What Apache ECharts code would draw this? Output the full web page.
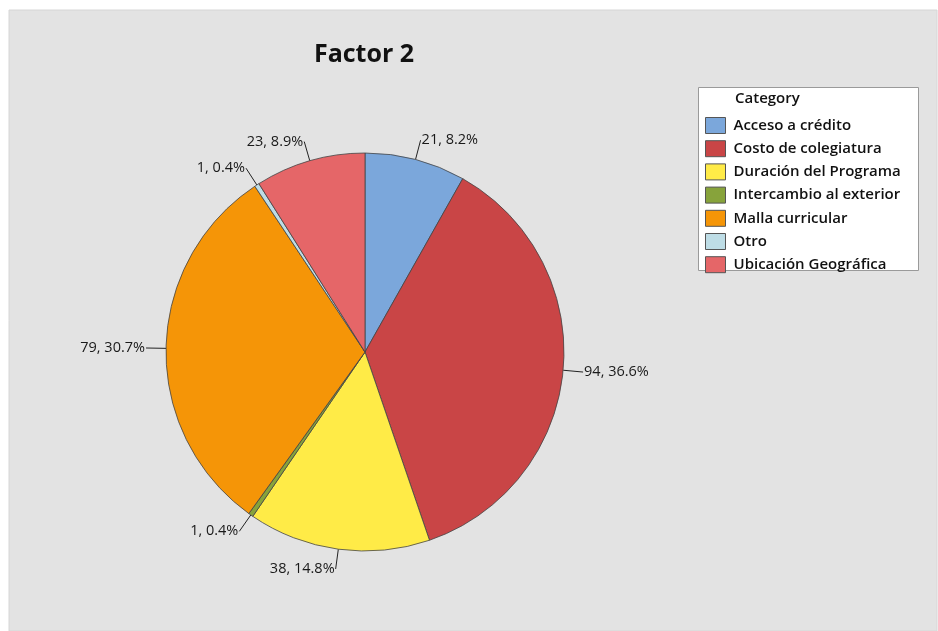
<!DOCTYPE html>
<html><head><meta charset="utf-8">
<script src="https://cdn.jsdelivr.net/npm/echarts@6/dist/echarts.min.js"></script>
<style>html,body{margin:0;padding:0;background:#fff;}#c{width:938px;height:631px;}</style>
</head><body><div id="c"></div>
<script>
const categories = ["Acceso a crédito","Costo de colegiatura","Duración del Programa","Intercambio al exterior","Malla curricular","Otro","Ubicación Geográfica"];
const counts = [21, 94, 38, 1, 79, 1, 23];
const colors = ["#7BA7DB","#C94546","#FFEB47","#87A33B","#F59507","#BEDDE6","#E56668"];
const titleText = "Factor 2";
const legendTitle = "Category";

const FONT = '"Open Sans", "Noto Sans", sans-serif';
const chart = echarts.init(document.getElementById('c'), null, {renderer:'canvas'});
chart.setOption({
  backgroundColor: '#ffffff',
  animation: false,
  title: {
    text: titleText, left: 359, top: 37, textAlign: 'center',
    textStyle: {fontFamily: FONT, fontSize: 25, fontWeight: 'bold', color: '#111'}
  },
  graphic: [
    {type:'rect', z:-10, shape:{x:9,y:10,width:928,height:621}, style:{fill:'#e3e3e3', stroke:'#d6d6d6', lineWidth:1}},
    {type:'rect', z:-5, shape:{x:698.5,y:87.5,width:220,height:183}, style:{fill:'#ffffff', stroke:'#9a9a9a', lineWidth:1}},
    {type:'text', z:5, left:735, top:91, style:{text:legendTitle, font:'600 15px "Open Sans", "Noto Sans", sans-serif', fill:'#111'}}
  ],
  legend: {
    orient: 'vertical', left: 705, top: 117, padding: 0,
    itemWidth: 20, itemHeight: 16, itemGap: 6.2,
    icon: 'rect',
    itemStyle: {borderColor: '#555', borderWidth: 1},
    textStyle: {fontFamily: FONT, fontSize: 15, fontWeight: 600, color: '#111', lineHeight: 16, padding:[0,0,0,3]},
    data: categories
  },
  series: [{
    type: 'pie',
    center: [365, 352],
    radius: 199,
    startAngle: 90,
    clockwise: true,
    percentPrecision: 1,
    avoidLabelOverlap: false,
    itemStyle: {borderColor: '#444', borderWidth: 0.8},
    label: {
      show: true, formatter: '{c}, {d}%',
      fontFamily: FONT, fontSize: 14.5, color: '#1a1a1a', distanceToLabelLine: 1
    },
    labelLine: {show: true, length: 20, length2: 0, lineStyle: {color: '#222', width: 1}},
    emphasis: {disabled: true},
    data: categories.map((n, i) => ({name: n, value: counts[i], itemStyle: {color: colors[i]}}))
  }]
});
</script></body></html>
